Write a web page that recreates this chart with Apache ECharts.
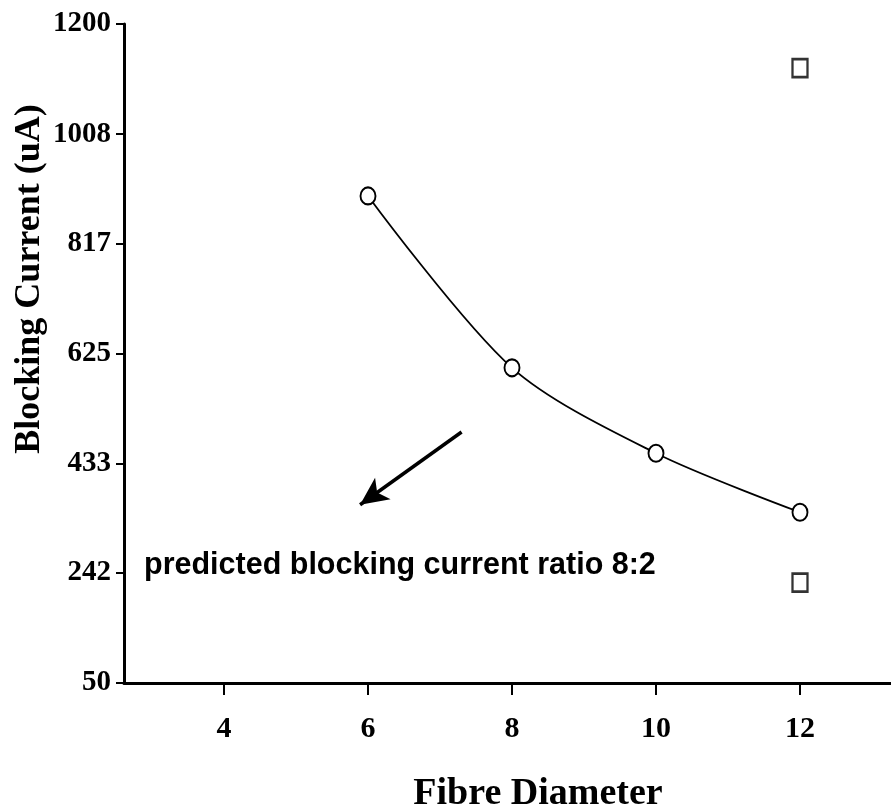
<!DOCTYPE html>
<html><head><meta charset="utf-8">
<script src="https://cdn.jsdelivr.net/npm/echarts@6/dist/echarts.min.js"></script>
<style>html,body{margin:0;padding:0;background:#fff}#c{width:891px;height:811px}</style>
</head><body><div id="c"></div>
<script>
// Data
const circleX = [6, 8, 10, 12];
const circleY = [900, 600, 451, 348];
const squareX = [12, 12];
const squareY = [1123, 225];
const xTicks = [4, 6, 8, 10, 12];
const yTicks = [50, 242, 433, 625, 817, 1008, 1200];
const arrowFrom = [7.3, 488];
const arrowTo = [5.89, 361];
const annotation = 'predicted blocking current ratio 8:2';
const xTitle = 'Fibre Diameter';
const yTitle = 'Blocking Current (uA)';

const serif = '"Liberation Serif", "Times New Roman", serif';
const sans = '"Liberation Sans", Arial, sans-serif';

const chart = echarts.init(document.getElementById('c'));
chart.setOption({
  animation: false,
  backgroundColor: '#fff',
  grid: { left: 124, right: 0, top: 24, bottom: 128, containLabel: false },
  xAxis: {
    type: 'value', min: 2.611, max: 13.264,
    axisLine: { show: true, onZero: false, lineStyle: { color: '#000', width: 3 } },
    axisTick: { show: true, customValues: xTicks, length: 12, lineStyle: { color: '#000', width: 2 } },
    axisLabel: { customValues: xTicks, margin: 31, color: '#000', fontFamily: serif, fontWeight: 'bold', fontSize: 30 },
    splitLine: { show: false }
  },
  yAxis: {
    type: 'value', min: 50, max: 1200,
    axisLine: { show: true, onZero: false, lineStyle: { color: '#000', width: 3 } },
    axisTick: { show: true, customValues: yTicks, length: 8, lineStyle: { color: '#000', width: 2 } },
    axisLabel: { customValues: yTicks, margin: 13, color: '#000', fontFamily: serif, fontWeight: 'bold', fontSize: 29,
      formatter: v => String(Math.round(v)) },
    splitLine: { show: false }
  },
  graphic: [
    { type: 'text', x: 144, y: 566,
      style: { text: annotation, fill: '#000', font: 'bold 30.5px ' + sans, align: 'left', verticalAlign: 'middle' } },
    { type: 'text', x: 30, y: 279, rotation: Math.PI / 2,
      style: { text: yTitle, fill: '#000', font: 'bold 36px ' + serif, align: 'center', verticalAlign: 'middle' } },
    { type: 'text', x: 538, y: 794,
      style: { text: xTitle, fill: '#000', font: 'bold 38px ' + serif, align: 'center', verticalAlign: 'middle' } }
  ],
  series: [
    {
      type: 'line', smooth: 0.3,
      data: circleX.map((x, i) => [x, circleY[i]]),
      symbol: 'emptyCircle', symbolSize: [15, 17], showSymbol: true,
      lineStyle: { color: '#000', width: 1.8 },
      itemStyle: { color: '#000', borderColor: '#000', borderWidth: 2 },
      z: 3
    },
    {
      type: 'scatter',
      data: squareX.map((x, i) => [x, squareY[i]]),
      symbol: 'rect', symbolSize: [15, 18],
      itemStyle: { color: '#fff', borderColor: '#000', borderWidth: 2.5 }
    },
    {
      type: 'line', data: [],
      markLine: {
        silent: true, symbol: ['none', 'arrow'], symbolSize: [20, 28],
        lineStyle: { color: '#000', width: 3.5, type: 'solid' },
        label: { show: false },
        data: [[{ coord: arrowFrom }, { coord: arrowTo }]]
      }
    }
  ]
});
</script></body></html>
